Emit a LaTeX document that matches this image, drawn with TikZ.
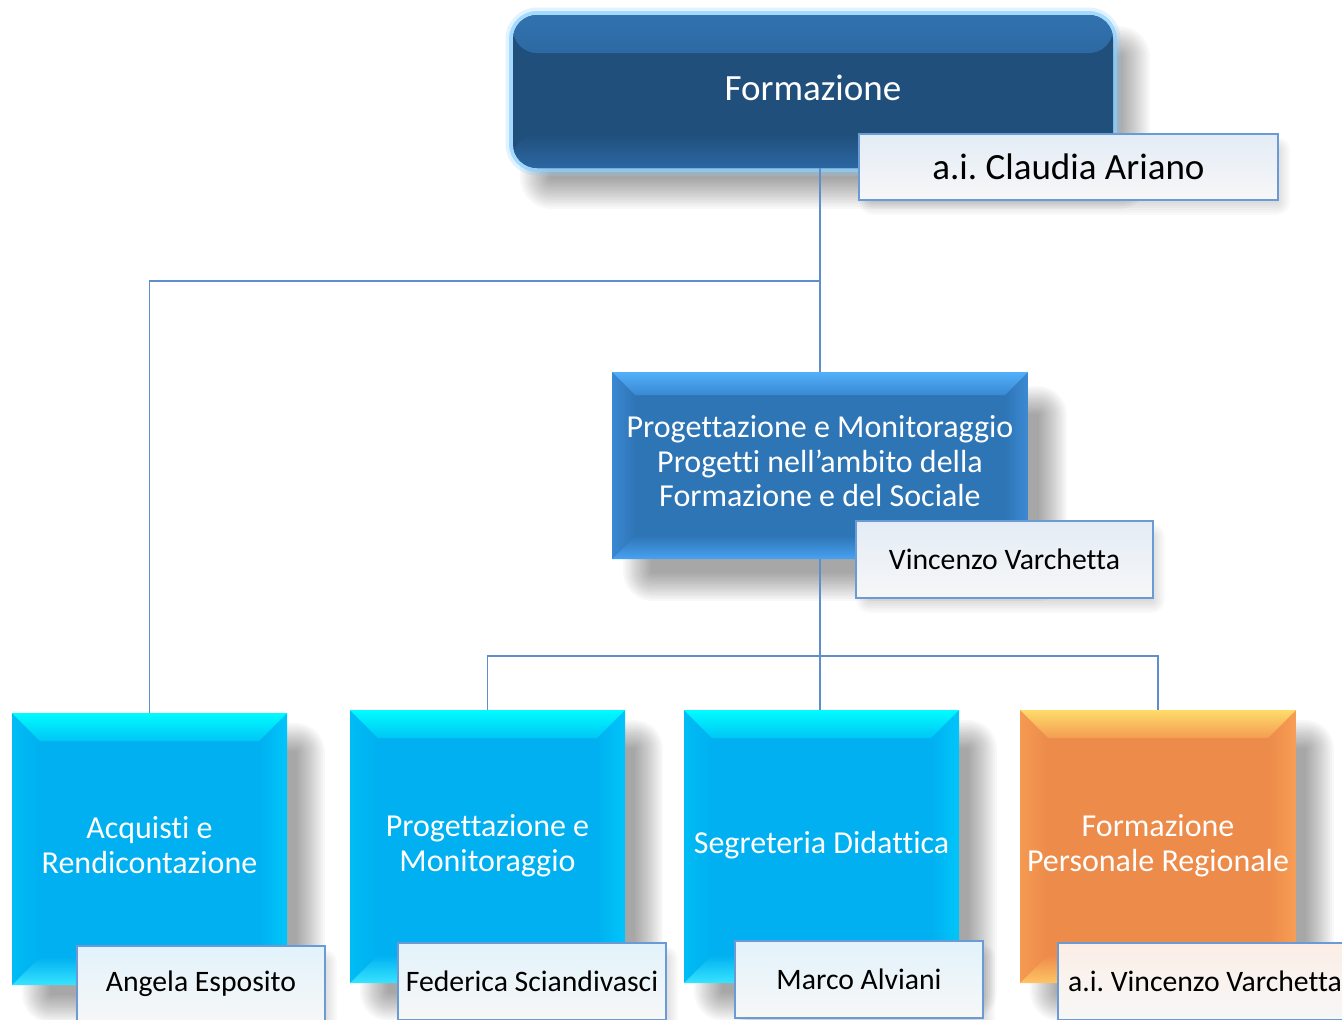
\documentclass[tikz,border=0pt]{standalone}
\usepackage{fontspec}
\setmainfont{Carlito}[Ligatures=NoCommon]
\usetikzlibrary{calc}
\frenchspacing
\definecolor{connc}{HTML}{5E8FCC}
\definecolor{topmain}{HTML}{214F7C}
\definecolor{topedge}{HTML}{3172AF}
\definecolor{topbot}{HTML}{2B67A2}
\definecolor{glowc}{HTML}{8CD0FF}
\definecolor{nameborder}{HTML}{6B9BD6}
\definecolor{nametopA}{HTML}{E3ECF6}
\definecolor{nametopB}{HTML}{E2F3FB}
\definecolor{nametopC}{HTML}{FBEEE6}
\definecolor{namebot}{HTML}{F7F7F7}
% middle box colours
\definecolor{mMain}{HTML}{2E75B6}
\definecolor{mTopO}{HTML}{52B0FA}
\definecolor{mTopI}{HTML}{3A88D2}
\definecolor{mLeft}{HTML}{3A88D2}
\definecolor{mRight}{HTML}{3C8AD4}
\definecolor{mBot}{HTML}{48A2F2}
% cyan box colours
\definecolor{cMain}{HTML}{00B0F0}
\definecolor{cTopO}{HTML}{00FCFF}
\definecolor{cTopI}{HTML}{00C6F5}
\definecolor{cLeft}{HTML}{00BCF4}
\definecolor{cRight}{HTML}{00C6FA}
\definecolor{cBot}{HTML}{38E4FF}
% orange box colours
\definecolor{oMain}{HTML}{ED8B4A}
\definecolor{oTopO}{HTML}{FFDC6A}
\definecolor{oTopI}{HTML}{F39C52}
\definecolor{oLeft}{HTML}{F59A52}
\definecolor{oRight}{HTML}{F89E55}
\definecolor{oBot}{HTML}{FFC465}
\newcommand\bigfont{\fontsize{37}{44}\selectfont}
\newcommand\midfont{\fontsize{32}{34.5}\selectfont}
\newcommand\boxfont{\fontsize{32}{35}\selectfont}
\newcommand\namefont{\fontsize{29.7}{34}\selectfont}
\newcommand\lift[2]{\raisebox{#1pt}{\begin{tabular}{@{}c@{}}#2\end{tabular}}}
% soft drop shadow behind a named node: node, dx, dy, blur r, steps, opacity per step
\newcommand\dropshadow[6]{%
  \coordinate (sNW) at ($(#1.north west)+(#2,#3)$);
  \coordinate (sSE) at ($(#1.south east)+(#2,#3)$);
  \foreach \k in {1,...,#5}{%
    \pgfmathsetmacro\ee{#4-2*#4*(\k-0.5)/#5}%
    \pgfmathsetmacro\rc{max(0.2,#4+\ee)}%
    \fill[black, fill opacity=#6, rounded corners=\rc pt]
      ($(sNW)+(-\ee,-\ee)$) rectangle ($(sSE)+(\ee,\ee)$);
  }%
}
\pgfdeclarelayer{paper}
\pgfdeclarelayer{shadowA}
\pgfdeclarelayer{boxes}
\pgfdeclarelayer{shadowB}
\pgfsetlayers{paper,shadowA,boxes,shadowB,main}
\tikzset{
  x=1pt, y=-1pt,
  conn/.style={draw=connc, line width=1.4pt},
  bevel/.style n args={7}{
    fill=#2, inner sep=0pt, outer sep=0pt, text=white,
    path picture={
      \coordinate (pa) at (path picture bounding box.north west);
      \coordinate (pb) at (path picture bounding box.north east);
      \coordinate (pc) at (path picture bounding box.south east);
      \coordinate (pd) at (path picture bounding box.south west);
      \coordinate (qa) at ($(pa)+(#1,#1)$);
      \coordinate (qb) at ($(pb)+(-#1,#1)$);
      \coordinate (qc) at ($(pc)+(-#1,-#1)$);
      \coordinate (qd) at ($(pd)+(#1,-#1)$);
      \shade[left color=#5, right color=#2] (pa) -- (qa) -- (qd) -- (pd) -- cycle;
      \shade[left color=#2, right color=#6] (pb) -- (qb) -- (qc) -- (pc) -- cycle;
      \shade[top color=#3, bottom color=#4] (pa) -- (pb) -- (qb) -- (qa) -- cycle;
      \shade[top color=#2, bottom color=#7] (pd) -- (pc) -- (qc) -- (qd) -- cycle;
    }
  },
  cyanbox/.style={bevel={28}{cMain}{cTopO}{cTopI}{cLeft}{cRight}{cBot},
    minimum width=275pt, minimum height=273pt, font=\boxfont},
  orangebox/.style={bevel={28}{oMain}{oTopO}{oTopI}{oLeft}{oRight}{oBot},
    minimum width=276pt, minimum height=273pt, font=\boxfont},
  midbox/.style={bevel={23}{mMain}{mTopO}{mTopI}{mLeft}{mRight}{mBot},
    minimum width=416pt, minimum height=187pt, font=\midfont},
  topbox/.style={rounded corners=24pt, minimum width=600pt, minimum height=153pt,
    inner sep=0pt, outer sep=0pt, text=white, font=\bigfont,
    preaction={draw=glowc, line width=15pt, draw opacity=.25},
    preaction={draw=glowc, line width=8pt, draw opacity=.7},
    fill=topmain,
    path picture={
      \shade[top color=topedge, bottom color=topmain]
        (path picture bounding box.north west) rectangle
        ($(path picture bounding box.north east)+(0,38)$);
      \shade[top color=topmain, bottom color=topbot]
        ($(path picture bounding box.south west)+(0,-34)$) rectangle
        (path picture bounding box.south east);}},
  namebox/.style={draw=nameborder, line width=2.2pt, top color=#1, bottom color=namebot,
    text=black, inner sep=0pt, outer sep=0pt, font=\namefont},
}
\begin{document}
\begin{tikzpicture}
\useasboundingbox (0,0) rectangle (1342,1020);
\begin{pgfonlayer}{paper}
\fill[white] (0,0) rectangle (1342,1020);
\end{pgfonlayer}

\begin{pgfonlayer}{boxes}
\node[topbox] (top) at (813,91.5) {\lift{4}{Formazione}};
\node[midbox] (mid) at (820,465.5)
  {\lift{5}{Progettazione e Monitoraggio\\Progetti nell’ambito della\\Formazione e del Sociale}};
\node[cyanbox, minimum height=272pt] (acq) at (149.5,849) {\lift{5}{Acquisti e\\Rendicontazione}};
\node[cyanbox] (prog) at (487.5,846.5) {\lift{5}{Progettazione e\\Monitoraggio}};
\node[cyanbox] (seg) at (821.5,846.5) {\lift{5}{Segreteria Didattica}};
\node[orangebox] (fpr) at (1158,846.5) {\lift{5}{Formazione\\Personale Regionale}};
\end{pgfonlayer}

% name boxes
\node[namebox=nametopA, minimum width=419pt, minimum height=66pt, font=\bigfont]
  (topname) at (1068.5,167) {a.i. Claudia Ariano};
\node[namebox=nametopA, minimum width=297pt, minimum height=77pt]
  (midname) at (1004.5,559.5) {Vincenzo Varchetta};
\node[namebox=nametopB, minimum width=248pt, minimum height=76pt]
  (acqname) at (201,984) {Angela Esposito};
\node[namebox=nametopB, minimum width=268pt, minimum height=77pt]
  (progname) at (532,981.5) {Federica Sciandivasci};
\node[namebox=nametopB, minimum width=248pt, minimum height=77pt]
  (segname) at (859,979.5) {Marco Alviani};
\node[namebox=nametopC, minimum width=294pt, minimum height=77pt]
  (fprname) at (1205,981.5) {a.i. Vincenzo Varchetta};

% shadows
\begin{pgfonlayer}{shadowA}
\dropshadow{top}{22}{26}{16}{14}{.028}
\dropshadow{mid}{25}{28}{15}{14}{.028}
\dropshadow{acq}{24}{24}{15}{14}{.028}
\dropshadow{prog}{24}{24}{15}{14}{.028}
\dropshadow{seg}{24}{24}{15}{14}{.028}
\dropshadow{fpr}{24}{24}{15}{14}{.028}
\end{pgfonlayer}
\begin{pgfonlayer}{shadowB}
\dropshadow{topname}{6}{9}{7}{6}{.025}
\dropshadow{midname}{6}{9}{7}{6}{.025}
\dropshadow{acqname}{6}{9}{7}{6}{.025}
\dropshadow{progname}{6}{9}{7}{6}{.025}
\dropshadow{segname}{6}{9}{7}{6}{.025}
\dropshadow{fprname}{6}{9}{7}{6}{.025}
\end{pgfonlayer}

% connectors
\coordinate (j1) at (mid.north |- 0,281);
\coordinate (j2) at (mid.south |- 0,656);
\draw[conn] (mid.north |- top.south) -- (mid.north);
\draw[conn] (acq.north) |- (j1);
\draw[conn] (mid.south) -- (mid.south |- seg.north);
\draw[conn] (prog.north) |- (j2) -| (fpr.north);
\end{tikzpicture}
\end{document}
